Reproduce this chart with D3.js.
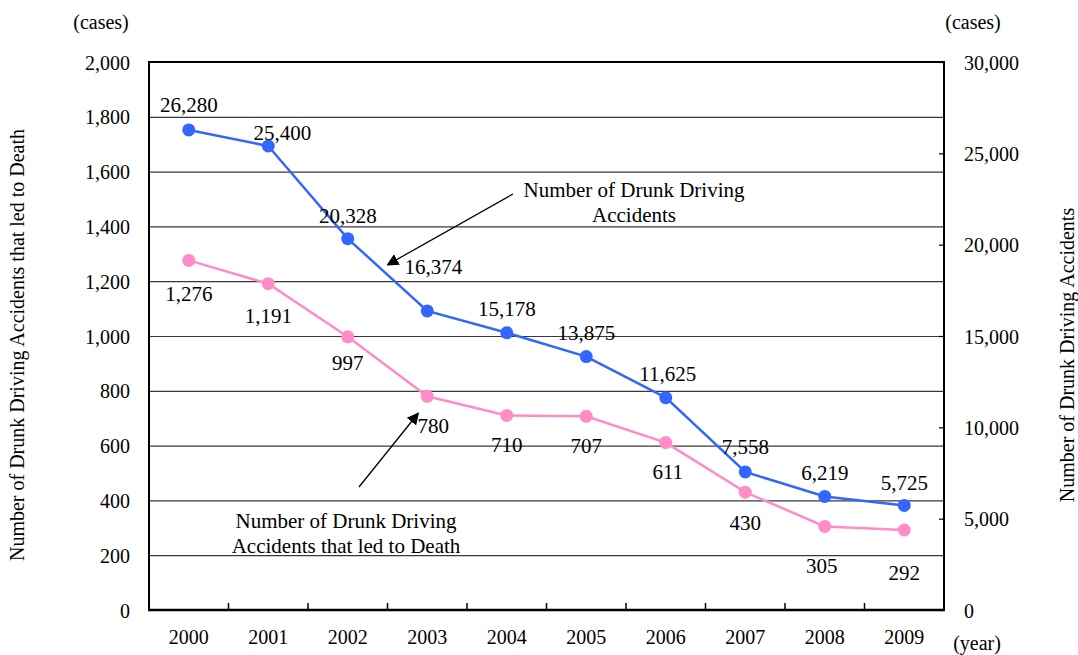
<!DOCTYPE html>
<html>
<head>
<meta charset="utf-8">
<script src="https://cdn.jsdelivr.net/npm/d3@7"></script>
<style>
  body { margin: 0; background: #fff; }
  svg { font-family: "Liberation Serif", "Times New Roman", serif; }
  .axis path { display: none; }
  .axis text { font-size: 20px; fill: #000; }
</style>
</head>
<body>
<div id="chart"></div>
<script>
// data
var years = ["2000", "2001", "2002", "2003", "2004", "2005", "2006", "2007", "2008", "2009"];
var accidents = [26280, 25400, 20328, 16374, 15178, 13875, 11625, 7558, 6219, 5725];
var deaths = [1276, 1191, 997, 780, 710, 707, 611, 430, 305, 292];
var leftTicks = [0, 200, 400, 600, 800, 1000, 1200, 1400, 1600, 1800, 2000];
var rightTicks = [0, 5000, 10000, 15000, 20000, 25000, 30000];

// label nudges (px) for the value labels
var accLabelOff = [[0, -25], [14, -13], [0, -23], [6, -44], [0, -24], [0, -24], [2, -24], [0, -25], [0, -24], [0, -23]];
var deathLabelOff = [[0, 33], [0, 32], [0, 26], [6, 29], [0, 29], [0, 29], [2, 29], [0, 30], [-3, 39], [0, 43]];

var W = 1078, H = 655;
var margin = {top: 62, right: 134, bottom: 45, left: 149};
var plot_w = W - margin.left - margin.right;
var plot_h = H - margin.top - margin.bottom;

var blue = "#3366ff", pink = "#ff8cc8";
var serif = "'Liberation Serif', 'Times New Roman', serif";

var svg = d3.select("#chart").append("svg")
    .attr("width", W)
    .attr("height", H);

var defs = svg.append("defs");
defs.append("marker")
    .attr("id", "arrow")
    .attr("viewBox", "0 0 10 10")
    .attr("refX", 9).attr("refY", 5)
    .attr("markerWidth", 12).attr("markerHeight", 12)
    .attr("markerUnits", "userSpaceOnUse")
    .attr("orient", "auto")
    .append("path")
    .attr("d", "M0,0L10,5L0,10Z")
    .attr("fill", "#000");

var g = svg.append("g")
    .attr("transform", "translate(" + margin.left + "," + margin.top + ")");

var xscale = d3.scaleBand().domain(years).range([0, plot_w]);
var yleft = d3.scaleLinear().domain([0, 2000]).range([plot_h, 0]);
var yright = d3.scaleLinear().domain([0, 30000]).range([plot_h, 0]);
var fmt = d3.format(",");

// left axis + gridlines
var gl = g.append("g")
    .attr("class", "axis")
    .call(d3.axisLeft(yleft).tickValues(leftTicks).tickFormat(fmt).tickSize(-plot_w).tickPadding(19))
    .attr("font-family", serif).attr("font-size", 20);
gl.selectAll(".tick line").attr("stroke", "#3a3a3a").attr("stroke-width", 1.2);
gl.selectAll(".tick text").attr("dy", "0.35em");

// right axis
var gr = g.append("g")
    .attr("class", "axis")
    .attr("transform", "translate(" + plot_w + ",0)")
    .call(d3.axisRight(yright).tickValues(rightTicks).tickFormat(fmt).tickSize(-5).tickPadding(20))
    .attr("font-family", serif).attr("font-size", 20);
gr.selectAll(".tick line").attr("stroke", "#000").attr("stroke-width", 1.2);
gr.selectAll(".tick text").attr("dy", "0.35em");

// x axis
var gx = g.append("g")
    .attr("class", "axis")
    .attr("transform", "translate(0," + plot_h + ")")
    .call(d3.axisBottom(xscale).tickSize(0).tickPadding(20))
    .attr("font-family", serif).attr("font-size", 20);
gx.selectAll(".tick text").attr("dy", "0.71em");

// x ticks at band boundaries, pointing up
g.selectAll(".xtick")
    .data(years.slice(1))
    .enter().append("line")
    .attr("class", "xtick")
    .attr("x1", function(d) { return xscale(d); })
    .attr("x2", function(d) { return xscale(d); })
    .attr("y1", plot_h)
    .attr("y2", plot_h - 7)
    .attr("stroke", "#000")
    .attr("stroke-width", 1.5);

// frame
g.append("path")
    .attr("d", "M0," + plot_h + "V0H" + plot_w + "V" + plot_h)
    .attr("fill", "none")
    .attr("stroke", "#000")
    .attr("stroke-width", 2);
g.append("line")
    .attr("x1", -1).attr("x2", plot_w + 1)
    .attr("y1", plot_h).attr("y2", plot_h)
    .attr("stroke", "#000")
    .attr("stroke-width", 2.5);

var cx = function(i) { return xscale(years[i]) + xscale.bandwidth() / 2; };

function drawSeries(values, yscale, color, offs) {
    var line = d3.line()
        .x(function(d, i) { return cx(i); })
        .y(function(d) { return yscale(d); });
    g.append("path")
        .datum(values)
        .attr("d", line)
        .attr("fill", "none")
        .attr("stroke", color)
        .attr("stroke-width", 2.5);
    g.selectAll(null)
        .data(values)
        .enter().append("circle")
        .attr("cx", function(d, i) { return cx(i); })
        .attr("cy", function(d) { return yscale(d); })
        .attr("r", 6.5)
        .attr("fill", color);
    g.selectAll(null)
        .data(values)
        .enter().append("text")
        .attr("x", function(d, i) { return cx(i) + offs[i][0]; })
        .attr("y", function(d, i) { return yscale(d) + offs[i][1]; })
        .attr("dy", "0.35em")
        .attr("text-anchor", "middle")
        .style("font-size", "21px")
        .text(function(d) { return fmt(d); });
}

drawSeries(deaths, yleft, pink, deathLabelOff);
drawSeries(accidents, yright, blue, accLabelOff);

// annotations
function note(lines, x, y) {
    var t = svg.append("text")
        .attr("text-anchor", "middle")
        .style("font-size", "21px");
    lines.forEach(function(s, i) {
        t.append("tspan").attr("x", x).attr("y", y + i * 25).text(s);
    });
}

// blue arrow points at the 2002-2003 segment
var bx = (cx(2) + cx(3)) / 2 + margin.left;
var by = (yright(accidents[2]) + yright(accidents[3])) / 2 + margin.top - 10;
svg.append("line")
    .attr("x1", 513).attr("y1", 194)
    .attr("x2", bx).attr("y2", by)
    .attr("stroke", "#000").attr("stroke-width", 1.3)
    .attr("marker-end", "url(#arrow)");
note(["Number of Drunk Driving", "Accidents"], 634, 197);

// pink arrow points at the 2003 point
var px = cx(3) + margin.left - 9;
var py = yleft(deaths[3]) + margin.top + 17;
svg.append("line")
    .attr("x1", 359).attr("y1", 487)
    .attr("x2", px).attr("y2", py)
    .attr("stroke", "#000").attr("stroke-width", 1.3)
    .attr("marker-end", "url(#arrow)");
note(["Number of Drunk Driving", "Accidents that led to Death"], 346, 528);

// units & axis titles
svg.append("text").attr("x", 101).attr("y", 29).attr("text-anchor", "middle")
    .style("font-size", "20px").text("(cases)");
svg.append("text").attr("x", 973).attr("y", 29).attr("text-anchor", "middle")
    .style("font-size", "20px").text("(cases)");
svg.append("text").attr("x", 977).attr("y", 650).attr("text-anchor", "middle")
    .style("font-size", "20px").text("(year)");

svg.append("text")
    .attr("transform", "translate(24,345) rotate(-90)")
    .attr("text-anchor", "middle")
    .style("font-size", "20px")
    .text("Number of Drunk Driving Accidents that led to Death");
svg.append("text")
    .attr("transform", "translate(1074,355) rotate(-90)")
    .attr("text-anchor", "middle")
    .style("font-size", "20px")
    .text("Number of Drunk Driving Accidents");
</script>
</body>
</html>
